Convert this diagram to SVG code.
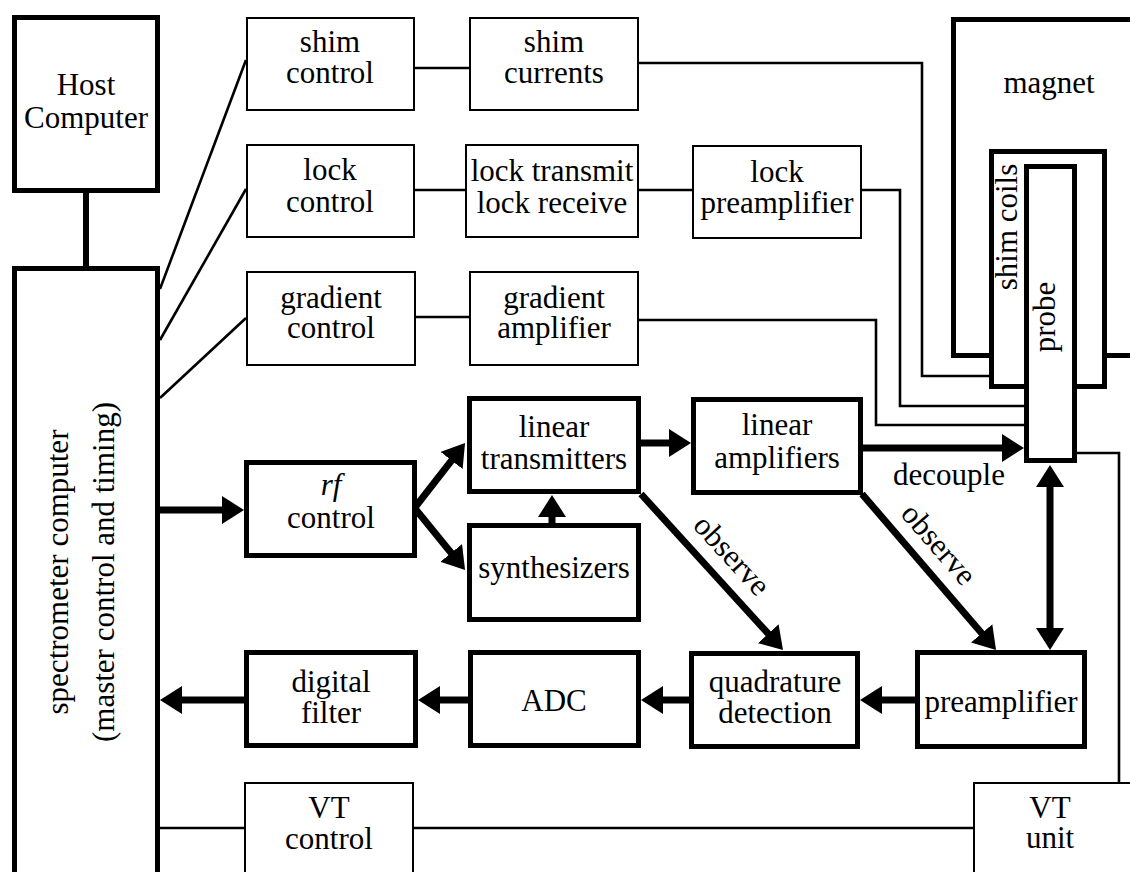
<svg xmlns="http://www.w3.org/2000/svg" width="1130" height="872" viewBox="0 0 1130 872" font-family="Liberation Serif, Times New Roman, DejaVu Serif, serif">
<style>
.thin{fill:#fff;stroke:#000;stroke-width:2}
.thick{fill:#fff;stroke:#000;stroke-width:5}
.ln{fill:none;stroke:#000;stroke-width:2.6}
.tl{fill:none;stroke:#000;stroke-width:7}
.ar{fill:none;stroke:#000;stroke-width:7;marker-end:url(#ah)}
text{font-family:'Liberation Serif','Times New Roman','DejaVu Serif',serif;font-size:31px;fill:#000;text-anchor:middle}
</style>
<defs>
<marker id="ah" viewBox="0 0 22 28" refX="4" refY="14" markerWidth="22" markerHeight="28" markerUnits="userSpaceOnUse" orient="auto-start-reverse">
<path d="M0,0 L22,14 L0,28 z" fill="#000"/>
</marker>
</defs>
<rect width="1130" height="872" fill="#fff"/>

<g id="magnet"><rect class="thick" x="953.5" y="19.5" width="200" height="336"/><text x="1049" y="93">magnet</text></g>

<g id="connectors">
<line class="tl" x1="86" y1="193" x2="86" y2="266" style="stroke-width:6"/>
<line class="ln" x1="160" y1="289" x2="246" y2="60"/>
<line class="ln" x1="160" y1="340" x2="246" y2="189"/>
<line class="ln" x1="160" y1="398" x2="246" y2="318"/>
<line class="ln" x1="415" y1="68" x2="469" y2="68"/>
<polyline class="ln" points="639,63 922,63 922,376 989,376"/>
<line class="ln" x1="415" y1="190" x2="465" y2="190"/>
<line class="ln" x1="639" y1="190" x2="692" y2="190"/>
<polyline class="ln" points="862,190 900,190 900,406 1024,406"/>
<line class="ln" x1="416" y1="317" x2="469" y2="317"/>
<polyline class="ln" points="639,320 876,320 876,425 1024,425"/>
<polyline class="ln" points="1077,453 1119,453 1119,782"/>
<line class="ln" x1="160" y1="828" x2="244" y2="828"/>
<line class="ln" x1="414" y1="828" x2="973" y2="828"/>
<line class="ar" x1="160" y1="510" x2="226" y2="510"/>
<line class="ar" x1="413" y1="510" x2="454" y2="457.3"/>
<line class="ar" x1="413" y1="506" x2="453.7" y2="556"/>
<line class="ar" x1="552" y1="524" x2="552" y2="513"/>
<line class="ar" x1="641" y1="443" x2="673" y2="443"/>
<line class="ar" x1="863" y1="448" x2="1006" y2="448"/>
<line class="ar" x1="641" y1="494" x2="770.9" y2="636.7"/>
<line class="ar" x1="862" y1="494" x2="984.3" y2="636.3"/>
<line class="ar" x1="1050" y1="483" x2="1050" y2="632" style="marker-start:url(#ah)"/>
<line class="ar" x1="915" y1="700" x2="878" y2="700"/>
<line class="ar" x1="689" y1="700" x2="659" y2="700"/>
<line class="ar" x1="468" y1="700" x2="436" y2="700"/>
<line class="ar" x1="244" y1="700" x2="178" y2="700"/>
<text x="949" y="485">decouple</text>
<text transform="translate(731,556) rotate(47.5)" x="0" y="9">observe</text>
<text transform="translate(938,545) rotate(49)" x="0" y="9">observe</text>
</g>

<g id="host"><rect class="thick" x="14.5" y="17.5" width="143" height="173"/><text x="86" y="95">Host</text><text x="86" y="128">Computer</text></g>
<g id="spectrometer"><rect class="thick" x="14.5" y="268.5" width="143" height="620"/>
<text transform="translate(86,572) rotate(-90)" x="0" y="-18">spectrometer computer</text>
<text transform="translate(86,572) rotate(-90)" x="0" y="28">(master control and timing)</text></g>

<g id="shim-control"><rect class="thin" x="247" y="18" width="167" height="92"/><text x="330" y="52">shim</text><text x="330" y="83">control</text></g>
<g id="shim-currents"><rect class="thin" x="470" y="18" width="168" height="92"/><text x="554" y="52">shim</text><text x="554" y="83">currents</text></g>
<g id="lock-control"><rect class="thin" x="247" y="145" width="167" height="92"/><text x="330" y="180">lock</text><text x="330" y="212">control</text></g>
<g id="lock-transmit"><rect class="thin" x="466" y="145" width="172" height="92"/><text x="552" y="181">lock transmit</text><text x="552" y="213">lock receive</text></g>
<g id="lock-preamplifier"><rect class="thin" x="693" y="146" width="168" height="92"/><text x="777" y="182">lock</text><text x="777" y="213">preamplifier</text></g>
<g id="gradient-control"><rect class="thin" x="247" y="272" width="168" height="93"/><text x="331" y="308">gradient</text><text x="331" y="338">control</text></g>
<g id="gradient-amplifier"><rect class="thin" x="470" y="272" width="168" height="93"/><text x="554" y="308">gradient</text><text x="554" y="338">amplifier</text></g>

<g id="rf-control"><rect class="thick" x="246.5" y="462.5" width="168" height="93"/><text x="331" y="495" font-style="italic">rf</text><text x="331" y="528">control</text></g>
<g id="linear-transmitters"><rect class="thick" x="469.5" y="398.5" width="169" height="93"/><text x="554" y="437">linear</text><text x="554" y="469">transmitters</text></g>
<g id="synthesizers"><rect class="thick" x="469.5" y="525.5" width="169" height="94"/><text x="554" y="578">synthesizers</text></g>
<g id="linear-amplifiers"><rect class="thick" x="693.5" y="399.5" width="167" height="93"/><text x="777" y="435">linear</text><text x="777" y="468">amplifiers</text></g>

<g id="shim-coils"><rect class="thick" x="991.5" y="151.5" width="113" height="235"/><text transform="translate(1017,227) rotate(-90)" x="0" y="0">shim coils</text></g>
<g id="probe"><rect class="thick" x="1026.5" y="166.5" width="48" height="294"/><text transform="translate(1055,317) rotate(-90)" x="0" y="0">probe</text></g>

<g id="digital-filter"><rect class="thick" x="246.5" y="652.5" width="169" height="93"/><text x="331" y="692">digital</text><text x="331" y="723">filter</text></g>
<g id="adc"><rect class="thick" x="470.5" y="652.5" width="168" height="93"/><text x="554" y="711">ADC</text></g>
<g id="quadrature-detection"><rect class="thick" x="691.5" y="653.5" width="166" height="93"/><text x="775" y="692">quadrature</text><text x="775" y="723">detection</text></g>
<g id="preamplifier"><rect class="thick" x="917.5" y="652.5" width="167" height="94"/><text x="1001" y="712">preamplifier</text></g>

<g id="vt-control"><rect class="thin" x="245" y="783" width="168" height="120"/><text x="329" y="818">VT</text><text x="329" y="849">control</text></g>
<g id="vt-unit"><rect class="thin" x="974" y="783" width="170" height="120"/><text x="1050" y="818">VT</text><text x="1050" y="848">unit</text></g>
</svg>
